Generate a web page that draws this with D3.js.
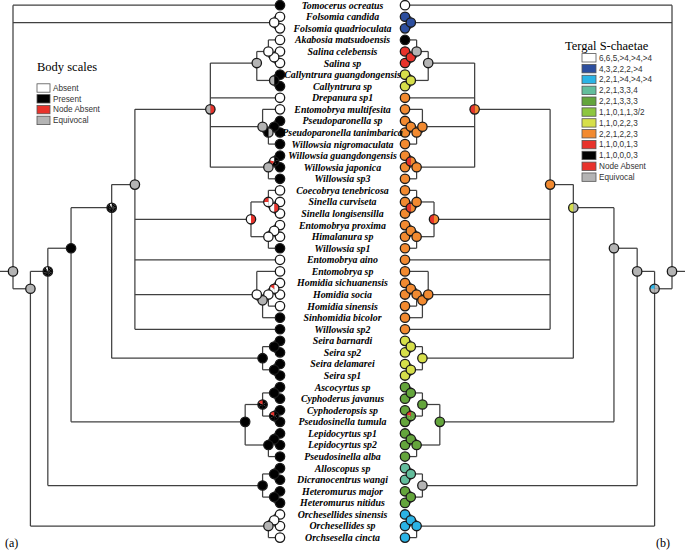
<!DOCTYPE html>
<html><head><meta charset="utf-8">
<script src="https://cdn.jsdelivr.net/npm/d3@7/dist/d3.min.js"></script>
<style>body{margin:0;background:#fff}svg{display:block}</style>
</head><body>
<svg id="chart" width="685" height="550"></svg>
<script>
// ---------- DATA ----------
const taxa = ["Tomocerus ocreatus","Folsomia candida","Folsomia quadrioculata","Akabosia matsudoensis","Salina celebensis","Salina sp","Callyntrura guangdongensis","Callyntrura sp","Drepanura sp1","Entomobrya multifesita","Pseudoparonella sp","Pseudoparonella tanimbarica","Willowsia nigromaculata","Willowsia guangdongensis","Willowsia japonica","Willowsia sp3","Coecobrya tenebricosa","Sinella curviseta","Sinella longisensilla","Entomobrya proxima","Himalanura sp","Willowsia sp1","Entomobrya aino","Entomobrya sp","Homidia sichuanensis","Homidia socia","Homidia sinensis","Sinhomidia bicolor","Willowsia sp2","Seira barnardi","Seira sp2","Seira delamarei","Seira sp1","Ascocyrtus sp","Cyphoderus javanus","Cyphoderopsis sp","Pseudosinella tumula","Lepidocyrtus sp1","Lepidocyrtus sp2","Pseudosinella alba","Alloscopus sp","Dicranocentrus wangi","Heteromurus major","Heteromurus nitidus","Orchesellides sinensis","Orchesellides sp","Orchsesella cincta"];

// tip states: body scales (tree a) and tergal S-chaetae (tree b)
const bodyTipStates = ["B","W","W","W","W","W","B","B","W","W","B","B","B","B","B","B","W","W","W","W","W","B","W","W","W","W","W","B","B","B","B","B","B","B","B","B","B","B","B","B","B","B","B","B","W","W","W"];
const chaetaeTipStates = ["W","D","D","B","R","R","Y","Y","O","O","O","O","O","O","O","O","O","O","O","O","O","O","O","O","O","O","O","O","O","Y","Y","Y","Y","N","N","N","N","N","N","N","T","T","N","N","C","C","C"];

// topology (tip numbers), internal labels = "bodyState|chaetaeState" (each letter = one equal pie share)
const topology = "(1,(2,3)W|D,((((((((4,(5,6)W|R)W|G,(7,8)BG|Y)G|G,9,(10,((11,12)B|O,13)GB|O)G|O,((14,15)BBBRW|OR,16)G|O)RG|OR,((17,(18,19)RW|OR)WWWR|O,((20,21)W|O,22)W|O)RW|OR,23,(24,(((25,26)WWWWWR|O,27)W|O,28)G|O)W|O,29)G|O,((30,31)B|Y,(32,33)B|Y)B|Y)BBBBBBBBBBBBW|GY,(((34,35)B|N,(36,37)BBBBBR|NNNNR)BBBBBR|N,((38,39)B|N,40)B|N)B|N)B|G,((41,42)B|T,(43,44)B|N)B|G)BBBBBBBBBBBBW|G,((45,46)W|C,47)G|C)G|GGGC)G|G";

const stateCodes = ["W","B","R","G","D","C","T","N","L","Y","O"];
const stateColors = ["#ffffff","#000000","#e8322b","#b4b4b4","#2c4e9e","#2bb3e5","#63bd9c","#64a53c","#8dc63f","#d6df4a","#f28a30"];

const bodyLegendTitle = "Body scales";
const bodyLegendLabels = ["Absent","Present","Node Absent","Equivocal"];
const bodyLegendStates = ["W","B","R","G"];
const chaetaeLegendTitle = "Tergal S-chaetae";
const chaetaeLegendLabels = ["6,6,5,>4,>4,>4","4,3,2,2,2,>4","2,2,1,>4,>4,>4","2,2,1,3,3,4","2,2,1,3,3,3","1,1,0,1,1,3/2","1,1,0,2,2,3","2,2,1,2,2,3","1,1,0,0,1,3","1,1,0,0,0,3","Node Absent","Equivocal"];
const chaetaeLegendStates = ["W","D","C","T","N","L","Y","O","R","B","R","G"];
const panelLabels = ["(a)","(b)"];

// ---------- PARSE ----------
function parseNewick(s){
  let i=0;
  function node(){
    if(s[i]==="("){
      i++; const children=[];
      children.push(node());
      while(s[i]===","){i++; children.push(node());}
      i++; // ')'
      let lab=""; while(i<s.length && !",()".includes(s[i])) lab+=s[i++];
      const [a,b]=lab.split("|");
      return {children, bodyState:a, chaetaeState:b};
    } else {
      let lab=""; while(i<s.length && !",()".includes(s[i])) lab+=s[i++];
      const k=+lab-1;
      return {tip:k, bodyState:bodyTipStates[k], chaetaeState:chaetaeTipStates[k]};
    }
  }
  return node();
}
const root = d3.hierarchy(parseNewick(topology));
root.count();

// ---------- SCALES ----------
const W=685, H=550, cx=342.5;
const y = d3.scaleLinear().domain([0, taxa.length-1]).range([5.2, 537.6]);
const xLeft = d3.scaleLinear().domain([1, taxa.length]).range([280, 13]);
const xRight = d3.scaleLinear().domain([1, taxa.length]).range([405, 672]);
const color = d3.scaleOrdinal().domain(stateCodes).range(stateColors);

// y = mean of descendant tip positions
root.eachAfter(n=>{
  if(!n.children) n.yy = y(n.data.tip);
  else n.yy = d3.mean(n.leaves(), l=>y(l.data.tip));
});

const svg = d3.select("#chart");
const lineColor="#404040";

function drawTree(xs, stateKey, edgeX){
  const g = svg.append("g");
  const X = n=>xs(n.value);
  g.append("line").attr("x1",edgeX).attr("x2",X(root)).attr("y1",root.yy).attr("y2",root.yy)
    .attr("stroke",lineColor).attr("stroke-width",1.25);
  root.each(n=>{
    if(!n.children) return;
    const ys=n.children.map(c=>c.yy);
    g.append("line").attr("x1",X(n)).attr("x2",X(n)).attr("y1",d3.min(ys)).attr("y2",d3.max(ys))
      .attr("stroke",lineColor).attr("stroke-width",1.25);
    n.children.forEach(c=>{
      g.append("line").attr("x1",X(n)).attr("x2",X(c)).attr("y1",c.yy).attr("y2",c.yy)
        .attr("stroke",lineColor).attr("stroke-width",1.25);
    });
  });
  const r=4.7;
  const arc=d3.arc().innerRadius(0).outerRadius(r);
  const pie=d3.pie().sort(null).value(1).startAngle(0);
  const nodes=[];
  root.eachAfter(n=>nodes.push(n));
  nodes.forEach(n=>{
    const st=n.data[stateKey];
    const ng=g.append("g").attr("transform",`translate(${X(n)},${n.yy})`);
    const parts=st.split("");
    if(new Set(parts).size===1){
      ng.append("circle").attr("r",r).attr("fill",color(parts[0]));
    } else {
      ng.selectAll("path").data(pie(parts)).join("path").attr("d",arc).attr("fill",d=>color(d.data));
    }
    ng.append("circle").attr("r",r).attr("fill","none").attr("stroke","#1a1a1a").attr("stroke-width",1.3);
  });
}
drawTree(xLeft,"bodyState",0);
drawTree(xRight,"chaetaeState",W);

// taxon labels
svg.append("g").selectAll("text").data(taxa).join("text")
  .attr("x",cx).attr("y",(d,i)=>y(i)).attr("dy","0.35em").attr("text-anchor","middle")
  .attr("font-family","'Liberation Serif','Times New Roman',serif").attr("font-weight","bold").attr("font-style","italic")
  .attr("font-size","9.9px").attr("fill","#000").text(d=>d);

// legends
function legend(title, labels, states, x0, titleX, titleY, y0, step, bw){
  const g=svg.append("g");
  g.append("text").attr("x",titleX).attr("y",titleY).attr("font-family","'Liberation Serif','Times New Roman',serif")
    .attr("font-size","12.5px").attr("fill","#000").text(title);
  labels.forEach((lab,i)=>{
    const yy=y0+i*step;
    g.append("rect").attr("x",x0).attr("y",yy-4.2).attr("width",bw).attr("height",8.4)
      .attr("fill",color(states[i])).attr("stroke","#555").attr("stroke-width",0.8);
    g.append("text").attr("x",x0+bw+3).attr("y",yy).attr("dy","0.35em")
      .attr("font-family","'Liberation Sans',Arial,sans-serif").attr("font-size","8.2px").attr("fill","#333").text(lab);
  });
}
legend(bodyLegendTitle, bodyLegendLabels, bodyLegendStates, 37, 37, 71, 88, 10.8, 13);
legend(chaetaeLegendTitle, chaetaeLegendLabels, chaetaeLegendStates, 582, 565, 50, 57.8, 10.85, 14);

// panel labels
svg.append("text").attr("x",5).attr("y",547).attr("font-family","'Liberation Serif',serif").attr("font-size","12px").text(panelLabels[0]);
svg.append("text").attr("x",656).attr("y",547).attr("font-family","'Liberation Serif',serif").attr("font-size","12px").text(panelLabels[1]);
</script>
</body></html>
